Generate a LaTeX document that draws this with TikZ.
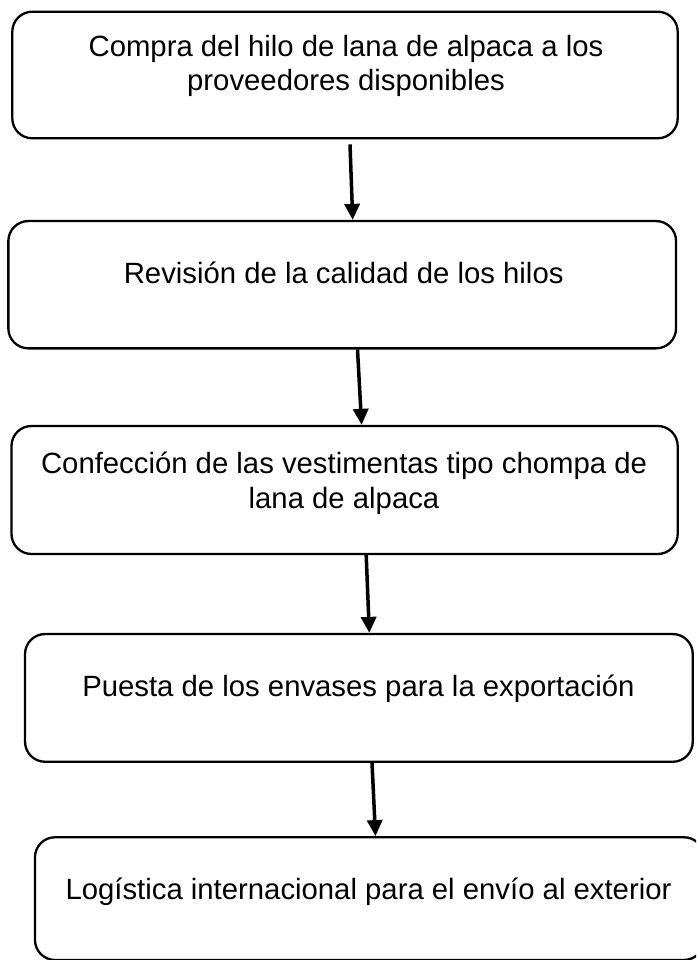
\documentclass[tikz,border=0pt]{standalone}
\usepackage{fontspec}
\setmainfont{Liberation Sans}
\usepackage{tikz}
\usetikzlibrary{calc,arrows.meta}
\usetikzlibrary{positioning}

\begin{document}
\begin{tikzpicture}[x=1pt,y=-1pt,
	caja/.style={draw, line width=2.3pt, rounded corners=20pt, inner sep=0pt},
	texto/.style={inner sep=0pt, align=center, anchor=base, font=\fontsize{29.3}{34.2}\selectfont},
	flecha/.style={line width=3.5pt, -{Triangle[length=16pt,width=15pt]}}]
	
	\clip (0,0) rectangle (696,960);
	
	% cajas
	\node[caja, minimum width=665.4pt, minimum height=126.6pt] (compra) at (345,75) {};
	\node[caja, minimum width=667.7pt, minimum height=127.3pt] (revision) at (342.2,284.7) {};
	\node[caja, minimum width=666.2pt, minimum height=128pt] (confeccion) at (344.6,490) {};
	\node[caja, minimum width=667.7pt, minimum height=127.7pt] (puesta) at (358.9,697.9) {};
	\node[caja, minimum width=669pt, minimum height=122.7pt] (logistica) at (369.5,898.6) {};
	
	% textos (base = ultima linea)
	\node[texto] (tcompra) at (346,90.7) {Compra del hilo de lana de alpaca a los\\proveedores disponibles};
	\node[texto] (trevision) at (343.7,283.3) {Revisión de la calidad de los hilos};
	\node[texto] (tconfeccion) at (344,508) {Confección de las vestimentas tipo chompa de\\lana de alpaca};
	\node[texto] (tpuesta) at (358.4,696.5) {Puesta de los envases para la exportación};
	\node[texto] (tlogistica) at (368.5,899.5) {Logística internacional para el envío al exterior};
	
	% flechas
	\draw[flecha] ([xshift=5pt,yshift=-5pt]compra.south) -- ([xshift=10.5pt]revision.north);
	\draw[flecha] ([xshift=15.3pt]revision.south) -- ([xshift=17pt]confeccion.north);
	\draw[flecha] ([xshift=21.6pt]confeccion.south) -- ([xshift=10.4pt]puesta.north);
	\draw[flecha] ([xshift=13.1pt]puesta.south) -- ([xshift=6pt]logistica.north);
	
\end{tikzpicture}
\end{document}
